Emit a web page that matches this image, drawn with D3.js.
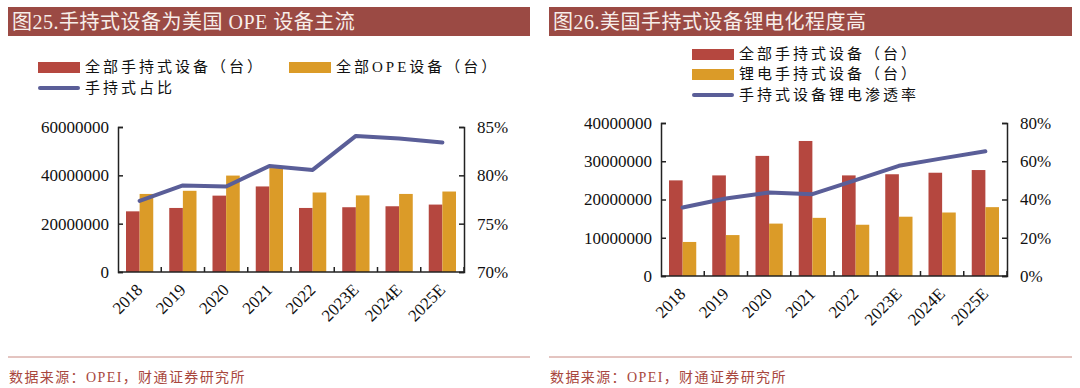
<!DOCTYPE html>
<html>
<head>
<meta charset="utf-8">
<script src="https://cdn.jsdelivr.net/npm/d3@7"></script>
<style>
  body { margin: 0; background: #fff; }
  svg text { font-family: "Liberation Serif", "Noto Sans CJK SC", serif; }
</style>
</head>
<body>
<svg id="chart" width="1080" height="388"></svg>
<script>
// categories shared by both panels
const years = ['2018', '2019', '2020', '2021', '2022', '2023E', '2024E', '2025E'];

// Fig 25
const handheldAll = [25.1e6, 26.5e6, 31.6e6, 35.4e6, 26.5e6, 26.8e6, 27.2e6, 27.9e6];
const opeAll = [32.3e6, 33.6e6, 39.9e6, 43.0e6, 32.9e6, 31.7e6, 32.3e6, 33.3e6];
const handheldShare = [0.7735, 0.7895, 0.7885, 0.8097, 0.8056, 0.8408, 0.838, 0.834];
const leftTicks25 = [0, 20000000, 40000000, 60000000];
const rightTicks25 = [0.70, 0.75, 0.80, 0.85];

// Fig 26
const handheldAll26 = [25.0e6, 26.3e6, 31.4e6, 35.3e6, 26.3e6, 26.6e6, 27.0e6, 27.7e6];
const lithiumHandheld = [8.9e6, 10.7e6, 13.7e6, 15.2e6, 13.4e6, 15.5e6, 16.6e6, 18.0e6];
const lithiumRate = [0.358, 0.405, 0.437, 0.428, 0.501, 0.576, 0.615, 0.652];
const leftTicks26 = [0, 10000000, 20000000, 30000000, 40000000];
const rightTicks26 = [0, 0.2, 0.4, 0.6, 0.8];

const RED = '#b5473f', ORANGE = '#db9b28', LINE = '#5a5e98';
const svg = d3.select('#chart');

function panel(cfg) {
    const g = svg.append('g');

    // title bar
    g.append('rect').attr('x', cfg.x0).attr('y', 7).attr('width', cfg.x1 - cfg.x0).attr('height', 29)
        .attr('fill', '#9b4a44');
    g.append('text').attr('x', cfg.x0 + 4).attr('y', 29).attr('font-size', 20).attr('fill', '#f7eeea')
        .attr('letter-spacing', 0.5).text(cfg.title);

    // source
    g.append('line').attr('x1', cfg.x0).attr('x2', cfg.x1).attr('y1', 357).attr('y2', 357)
        .attr('stroke', '#c98a82').attr('stroke-width', 1);
    g.append('text').attr('x', cfg.x0 + 1).attr('y', 382).attr('font-size', 14).attr('fill', '#a8473d')
        .attr('letter-spacing', 1.4).text('数据来源：OPEI，财通证券研究所');

    // legend
    cfg.legend.forEach(item => {
        if (item.type === 'bar') {
            g.append('rect').attr('x', item.x).attr('y', item.y - 5).attr('width', 42).attr('height', 11)
                .attr('fill', item.color);
        } else {
            g.append('line').attr('x1', item.x + 2).attr('x2', item.x + 40).attr('y1', item.y).attr('y2', item.y)
                .attr('stroke', item.color).attr('stroke-width', 4).attr('stroke-linecap', 'round');
        }
        g.append('text').attr('x', item.x + 47).attr('y', item.y).attr('dy', '0.36em')
            .attr('font-size', 15).attr('fill', '#111').attr('letter-spacing', 3).text(item.label);
    });

    const x0 = d3.scaleBand().domain(years).range([cfg.left, cfg.right]).paddingInner(0.37).paddingOuter(0.185);
    const xb = d3.scaleBand().domain(years).range([cfg.left, cfg.right]);
    const x1 = d3.scaleBand().domain([0, 1]).range([0, x0.bandwidth()]);
    const y = d3.scaleLinear().domain([0, cfg.leftMax]).range([cfg.bottom, cfg.top]);
    const y2 = d3.scaleLinear().domain(cfg.rightDomain).range([cfg.bottom, cfg.top]);

    [cfg.bars1, cfg.bars2].forEach((vals, k) => {
        g.append('g').selectAll('rect').data(vals).join('rect')
            .attr('x', (d, i) => x0(years[i]) + x1(k))
            .attr('y', d => y(d))
            .attr('width', x1.bandwidth())
            .attr('height', d => cfg.bottom - y(d))
            .attr('fill', k === 0 ? RED : ORANGE);
    });

    const line = d3.line().x((d, i) => xb(years[i]) + xb.bandwidth() / 2).y(d => y2(d));
    g.append('path').datum(cfg.rate).attr('d', line).attr('fill', 'none')
        .attr('stroke', LINE).attr('stroke-width', 4).attr('stroke-linejoin', 'round').attr('stroke-linecap', 'round');

    // axes
    const axL = g.append('g').attr('transform', `translate(${cfg.left},0)`)
        .call(d3.axisRight(y).tickValues(cfg.leftTicks).tickSize(5).tickFormat(d3.format('d')));
    axL.selectAll('text').attr('x', -9).attr('text-anchor', 'end');
    const axR = g.append('g').attr('transform', `translate(${cfg.right},0)`)
        .call(d3.axisLeft(y2).tickValues(cfg.rightTicks).tickSize(5).tickFormat(d3.format('.0%')));
    axR.selectAll('text').attr('x', 13).attr('text-anchor', 'start');
    const axB = g.append('g').attr('transform', `translate(0,${cfg.bottom})`)
        .call(d3.axisTop(xb).tickSize(5).tickFormat(''));
    axB.selectAll('.tick').attr('transform', d => `translate(${xb(d) + xb.bandwidth()},0)`);
    [axL, axR, axB].forEach(a => {
        a.select('.domain').attr('stroke', '#222').attr('stroke-width', 1.5);
        a.selectAll('.tick line').attr('stroke', '#222').attr('stroke-width', 1.5);
        a.selectAll('text').attr('font-size', 17).attr('fill', '#111')
            .attr('font-family', '"Liberation Serif", serif');
    });
    axB.select('.domain').attr('d', `M${cfg.left},0H${cfg.right}`);

    g.append('g').selectAll('text').data(years).join('text')
        .attr('transform', d => `translate(${xb(d) + xb.bandwidth() / 2 + 4},${cfg.bottom + 19}) rotate(-45)`)
        .attr('text-anchor', 'end').attr('font-size', 17).attr('fill', '#111').text(d => d);
}

panel({
    x0: 8, x1: 530, title: '图25.手持式设备为美国 OPE 设备主流',
    left: 118, right: 464, top: 127, bottom: 272,
    leftMax: 60000000, rightDomain: [0.70, 0.85],
    leftTicks: leftTicks25, rightTicks: rightTicks25,
    bars1: handheldAll, bars2: opeAll, rate: handheldShare,
    legend: [
        { type: 'bar', color: RED, x: 38, y: 67, label: '全部手持式设备（台）' },
        { type: 'bar', color: ORANGE, x: 289, y: 67, label: '全部OPE设备（台）' },
        { type: 'line', color: LINE, x: 38, y: 88, label: '手持式占比' }
    ]
});

panel({
    x0: 549, x1: 1072, title: '图26.美国手持式设备锂电化程度高',
    left: 661, right: 1007, top: 123, bottom: 276,
    leftMax: 40000000, rightDomain: [0, 0.8],
    leftTicks: leftTicks26, rightTicks: rightTicks26,
    bars1: handheldAll26, bars2: lithiumHandheld, rate: lithiumRate,
    legend: [
        { type: 'bar', color: RED, x: 692, y: 54, label: '全部手持式设备（台）' },
        { type: 'bar', color: ORANGE, x: 692, y: 74, label: '锂电手持式设备（台）' },
        { type: 'line', color: LINE, x: 692, y: 95, label: '手持式设备锂电渗透率' }
    ]
});
</script>
</body>
</html>
